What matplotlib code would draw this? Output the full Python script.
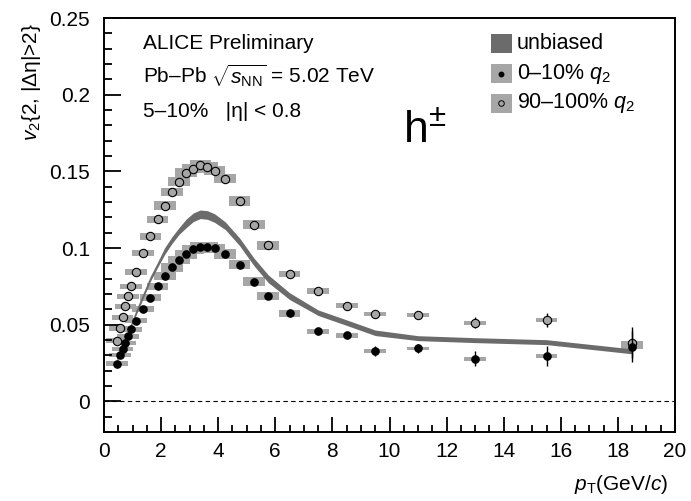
import matplotlib
matplotlib.use("Agg")
import matplotlib.pyplot as plt
from matplotlib.patches import Rectangle
from matplotlib.ticker import MultipleLocator
import numpy as np

plt.rcParams['font.family'] = ['Liberation Sans', 'DejaVu Sans']
plt.rcParams['mathtext.fontset'] = 'custom'
plt.rcParams['mathtext.rm'] = 'Liberation Sans'
plt.rcParams['mathtext.it'] = 'Liberation Sans:italic'
plt.rcParams['mathtext.bf'] = 'Liberation Sans:bold'

# transverse-momentum bin centres (GeV/c)
pt = [0.45, 0.55, 0.65, 0.75, 0.85, 0.95, 1.125, 1.375, 1.625, 1.875,
      2.125, 2.375, 2.625, 2.875, 3.125, 3.375, 3.625, 3.875, 4.25, 4.75,
      5.25, 5.75, 6.5, 7.5, 8.5, 9.5, 11.0, 13.0, 15.5, 18.5]

# unbiased v2 (band: central value and half-width)
v2_unb = [0.027, 0.031, 0.035, 0.040, 0.045, 0.050, 0.058, 0.069, 0.080, 0.089,
          0.098, 0.105, 0.111, 0.116, 0.120, 0.122, 0.1215, 0.1195, 0.1145, 0.104,
          0.091, 0.080, 0.0686, 0.0578, 0.0513, 0.0447, 0.0412, 0.0399, 0.0386, 0.0326]
v2_unb_err = [0.0012, 0.0012, 0.0012, 0.0012, 0.0012, 0.0012, 0.0017, 0.0017, 0.0017, 0.0017,
              0.0022, 0.0022, 0.0022, 0.0028, 0.0028, 0.0028, 0.0028, 0.0028, 0.0025, 0.0025,
              0.0025, 0.0025, 0.0022, 0.0018, 0.0018, 0.0018, 0.0016, 0.0016, 0.0016, 0.0016]

# 0-10% q2 (low q2)
v2_low = [0.0246, 0.0300, 0.0343, 0.0382, 0.0423, 0.0469, 0.0526, 0.0604, 0.0676, 0.0751,
          0.0816, 0.0873, 0.0923, 0.0960, 0.0992, 0.1008, 0.1008, 0.0999, 0.0960, 0.0890,
          0.0780, 0.0684, 0.0573, 0.0456, 0.0430, 0.0328, 0.0345, 0.0278, 0.0295, 0.0356]
v2_low_stat = [0.0003, 0.0003, 0.0003, 0.0003, 0.0003, 0.0003, 0.0003, 0.0003, 0.0004, 0.0004,
               0.0004, 0.0004, 0.0005, 0.0005, 0.0005, 0.0006, 0.0006, 0.0007, 0.0007, 0.0008,
               0.0010, 0.0012, 0.0012, 0.0015, 0.0020, 0.0033, 0.0030, 0.0050, 0.0063, 0.0100]
v2_low_sys = [0.0014, 0.0014, 0.0014, 0.0014, 0.0014, 0.0015, 0.0018, 0.0020, 0.0022, 0.0024,
              0.0026, 0.0027, 0.0028, 0.0030, 0.0030, 0.0030, 0.0030, 0.0030, 0.0033, 0.0030,
              0.0030, 0.0026, 0.0020, 0.0016, 0.0017, 0.0015, 0.0012, 0.0012, 0.0013, 0.0012]

# 90-100% q2 (high q2)
v2_high = [0.0395, 0.0476, 0.0547, 0.0619, 0.0686, 0.0751, 0.0842, 0.0966, 0.1077, 0.1186,
           0.1277, 0.1366, 0.1433, 0.1490, 0.1516, 0.1542, 0.1529, 0.1505, 0.1453, 0.1309,
           0.1153, 0.1018, 0.0832, 0.0719, 0.0625, 0.0569, 0.0562, 0.0513, 0.0532, 0.0382]
v2_high_stat = [0.0003, 0.0003, 0.0003, 0.0003, 0.0003, 0.0003, 0.0003, 0.0003, 0.0004, 0.0004,
                0.0004, 0.0004, 0.0005, 0.0005, 0.0005, 0.0006, 0.0006, 0.0007, 0.0007, 0.0008,
                0.0010, 0.0012, 0.0012, 0.0014, 0.0016, 0.0020, 0.0020, 0.0035, 0.0047, 0.0100]
v2_high_sys = [0.0015, 0.0015, 0.0015, 0.0015, 0.0016, 0.0017, 0.0019, 0.0021, 0.0023, 0.0025,
               0.0027, 0.0028, 0.0029, 0.0030, 0.0030, 0.0030, 0.0030, 0.0030, 0.0031, 0.0033,
               0.0030, 0.0030, 0.0020, 0.0017, 0.0016, 0.0013, 0.0013, 0.0012, 0.0012, 0.0012]

# axis tick labels
x_ticks = [0, 2, 4, 6, 8, 10, 12, 14, 16, 18, 20]
y_ticks = [0, 0.05, 0.1, 0.15, 0.2, 0.25]
y_ticklabels = ['0', '0.05', '0.1', '0.15', '0.2', '0.25']

box_halfwidth = 0.38  # GeV/c, width of systematic boxes
c_band = '#6b6b6b'
c_box = '#a6a6a6'

fig = plt.figure(figsize=(6.91, 5.01), dpi=100)
ax = fig.add_axes([104 / 691, 1 - 432 / 501, 571 / 691, 414 / 501])

# systematic-uncertainty boxes
for vals, sys in ((v2_low, v2_low_sys), (v2_high, v2_high_sys)):
    for x, y, s in zip(pt, vals, sys):
        ax.add_patch(Rectangle((x - box_halfwidth, y - s), 2 * box_halfwidth, 2 * s,
                               facecolor=c_box, edgecolor='none', zorder=1))

# unbiased band
unb = np.array(v2_unb)
unb_err = np.array(v2_unb_err)
ax.fill_between(pt, unb - unb_err, unb + unb_err, color=c_band, lw=0, zorder=2)

# zero line
ax.axhline(0, color='black', lw=0.8, ls=(0, (4, 3)), zorder=1.5)

# data points with statistical errors
ax.errorbar(pt, v2_high, yerr=v2_high_stat, fmt='o', ms=6.0, mfc=c_box, mec='black',
            mew=0.8, ecolor='black', elinewidth=1.0, capsize=0, zorder=3)
ax.errorbar(pt, v2_low, yerr=v2_low_stat, fmt='o', ms=5.2, mfc='black', mec='black',
            ecolor='black', elinewidth=1.0, capsize=0, zorder=4)

ax.set_xlim(0, 20)
ax.set_ylim(-0.02, 0.25)
ax.set_xticks(x_ticks)
ax.set_xticklabels([str(t) for t in x_ticks])
ax.xaxis.set_minor_locator(MultipleLocator(0.5))
ax.set_yticks(y_ticks)
ax.set_yticklabels(y_ticklabels)
ax.yaxis.set_minor_locator(MultipleLocator(0.01))
ax.tick_params(axis='both', which='both', direction='in', top=False, right=False,
               width=1.3, labelsize=15)
ax.tick_params(axis='x', which='major', length=10.5, pad=7)
ax.tick_params(axis='x', which='minor', length=5)
ax.tick_params(axis='y', which='major', length=12, pad=10)
ax.tick_params(axis='y', which='minor', length=5.8)
for sp in ax.spines.values():
    sp.set_linewidth(1.4)

fig.text(32 / 691, 1 - 82 / 501, r'$v_{2}${2, |Δη|>2}', rotation=90,
         ha='center', va='center', fontsize=15)
fig.text(668 / 691, 1 - 484 / 501, r'$p_{\mathrm{T}}$(GeV/$c$)', ha='right',
         va='center', fontsize=15)

# annotation text
ax.text(0.0683, 0.9244, 'ALICE Preliminary', transform=ax.transAxes, fontsize=15,
        va='baseline', ha='left')
ax.text(0.0683, 0.842, r'Pb–Pb $\sqrt{s_{\mathrm{NN}}}$ = 5.02 TeV', transform=ax.transAxes,
        fontsize=15, va='baseline', ha='left')
ax.text(0.0683, 0.7616, '5–10%   |η| < 0.8', transform=ax.transAxes, fontsize=15,
        va='baseline', ha='left')
ax.text(0.5236, 0.698, r'h$^{\pm}$', transform=ax.transAxes, fontsize=32,
        va='baseline', ha='left')

# legend
leg_x = (490.7 - 104) / 571
leg_w = 21 / 571
leg_h = 19 / 414
leg_text_x = (516.7 - 104) / 571
entries = [('unbiased', c_band, None, None),
           (r'0–10% $q_{2}$', c_box, 'black', 3.5),
           (r'90–100% $q_{2}$', c_box, 'none', 4.0)]
centers_px = [43, 73.5, 103]
for (label, boxc, mfc, ms), cpx in zip(entries, centers_px):
    yc = (432 - cpx) / 414
    ax.add_patch(Rectangle((leg_x, yc - leg_h / 2), leg_w, leg_h, transform=ax.transAxes,
                           facecolor=boxc, edgecolor='none', zorder=5, clip_on=False))
    if mfc is not None:
        ax.plot([leg_x + leg_w / 2], [yc], marker='o', ms=ms, mfc=mfc, mec='black',
                mew=0.7, transform=ax.transAxes, zorder=6, clip_on=False)
    ax.text(leg_text_x, yc, label, transform=ax.transAxes, fontsize=15.5,
            va='center', ha='left')

fig.savefig('out.png', dpi=100)
